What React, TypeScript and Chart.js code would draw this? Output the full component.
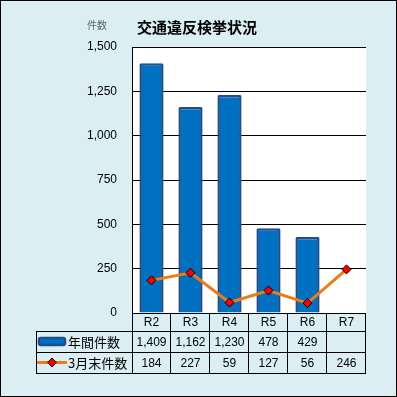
import React, { useEffect, useRef } from "react";
import { Chart, registerables } from "chart.js";

Chart.register(...registerables);

const categories = ["R2", "R3", "R4", "R5", "R6", "R7"];
const annualCounts: (number | null)[] = [1409, 1162, 1230, 478, 429, null];
const marchCounts: number[] = [184, 227, 59, 127, 56, 246];
const annualLabel = "年間件数";
const marchLabel = "3月末件数";
const titleText = "交通違反検挙状況";
const unitText = "件数";

const BG = "#DAEEF3";
const BAR_FILL = "#0070C0";
const BAR_BORDER = "#1F4E8C";
const LINE_COLOR = "#EC7B1A";
const MARKER = "#FF0000";
const NUM_FONT = "Liberation Sans, Arial, sans-serif";
const JP_FONT = "'Noto Sans CJK JP', sans-serif";

const fmt = (v: number | null) => (v == null ? "" : v.toLocaleString("en-US"));

export default function App() {
  const ref = useRef<HTMLCanvasElement | null>(null);

  useEffect(() => {
    const canvas = ref.current;
    if (!canvas) return;

    const framePlugin = {
      id: "frame",
      beforeDraw(chart: any) {
        const { ctx, chartArea: a } = chart;
        ctx.save();
        ctx.fillStyle = BG;
        ctx.fillRect(0, 0, chart.width, chart.height);
        ctx.fillStyle = "#FFFFFF";
        ctx.fillRect(a.left, a.top, a.right - a.left, a.bottom - a.top);
        ctx.strokeStyle = "#000";
        ctx.lineWidth = 1;
        ctx.strokeRect(0.5, 0.5, chart.width - 1, chart.height - 1);
        // titles
        ctx.fillStyle = "#000";
        ctx.font = `bold 15px ${JP_FONT}`;
        ctx.textBaseline = "middle";
        ctx.textAlign = "left";
        ctx.fillText(titleText, 137, 27);
        ctx.fillStyle = "#666";
        ctx.font = `10px ${JP_FONT}`;
        ctx.fillText(unitText, 87, 25);
        ctx.restore();
      },
      afterDraw(chart: any) {
        const { ctx, chartArea: a } = chart;
        const xs = chart.scales.x;
        const n = categories.length;
        const colW = (a.right - a.left) / n;
        const tableLeft = 36;
        const rowTops = [a.bottom, 331, 352, 373];
        ctx.save();
        ctx.strokeStyle = "#000";
        ctx.lineWidth = 1;
        const h = (y: number, x1: number, x2: number) => {
          ctx.beginPath();
          ctx.moveTo(x1, Math.round(y) + 0.5);
          ctx.lineTo(x2, Math.round(y) + 0.5);
          ctx.stroke();
        };
        const v = (x: number, y1: number, y2: number) => {
          ctx.beginPath();
          ctx.moveTo(Math.round(x) - 0.5, y1);
          ctx.lineTo(Math.round(x) - 0.5, y2);
          ctx.stroke();
        };
        h(rowTops[0], a.left, a.right);
        h(rowTops[1], tableLeft, a.right);
        h(rowTops[2], tableLeft, a.right);
        h(rowTops[3], tableLeft, a.right);
        v(tableLeft + 1, rowTops[1], rowTops[3] + 1);
        for (let i = 0; i <= n; i++) {
          v(a.left + colW * i + (i === 0 ? 1 : 0), rowTops[0], rowTops[3] + 1);
        }
        // text
        ctx.fillStyle = "#000";
        ctx.textAlign = "center";
        ctx.textBaseline = "middle";
        ctx.font = `12px ${NUM_FONT}`;
        for (let i = 0; i < n; i++) {
          const cx = xs.getPixelForValue(i);
          ctx.fillText(categories[i], cx, (rowTops[0] + rowTops[1]) / 2 + 1);
          ctx.fillText(fmt(annualCounts[i]), cx, (rowTops[1] + rowTops[2]) / 2 + 1);
          ctx.fillText(fmt(marchCounts[i]), cx, (rowTops[2] + rowTops[3]) / 2 + 1);
        }
        // legend labels
        ctx.textAlign = "left";
        ctx.font = `13px ${JP_FONT}`;
        ctx.fillText(annualLabel, 68, (rowTops[1] + rowTops[2]) / 2 + 1);
        ctx.fillText(marchLabel, 68, (rowTops[2] + rowTops[3]) / 2 + 1);
        // bar symbol
        const by = (rowTops[1] + rowTops[2]) / 2;
        ctx.fillStyle = BAR_FILL;
        ctx.strokeStyle = BAR_BORDER;
        ctx.lineWidth = 2.5;
        ctx.beginPath();
        (ctx as any).roundRect(39, by - 3.5, 26, 7, 2);
        ctx.fill();
        ctx.stroke();
        // line symbol
        const ly = (rowTops[2] + rowTops[3]) / 2;
        ctx.strokeStyle = LINE_COLOR;
        ctx.lineWidth = 3;
        ctx.beginPath();
        ctx.moveTo(37, ly);
        ctx.lineTo(67, ly);
        ctx.stroke();
        ctx.fillStyle = MARKER;
        ctx.strokeStyle = "#000";
        ctx.lineWidth = 1;
        ctx.beginPath();
        ctx.moveTo(52, ly - 4.5);
        ctx.lineTo(56.5, ly);
        ctx.lineTo(52, ly + 4.5);
        ctx.lineTo(47.5, ly);
        ctx.closePath();
        ctx.fill();
        ctx.stroke();
        ctx.restore();
      },
    };

    const chart = new Chart(canvas, {
      type: "bar",
      data: {
        labels: categories,
        datasets: [
          {
            type: "line",
            label: marchLabel,
            data: marchCounts,
            borderColor: LINE_COLOR,
            borderWidth: 3,
            pointStyle: "rectRot",
            pointRadius: 4.5,
            pointBackgroundColor: MARKER,
            pointBorderColor: "#000",
            pointBorderWidth: 1,
            tension: 0,
            order: 0,
          } as any,
          {
            type: "bar",
            label: annualLabel,
            data: annualCounts,
            backgroundColor: BAR_FILL,
            borderColor: BAR_BORDER,
            borderWidth: 2.5,
            borderRadius: 1.5,
            barPercentage: 0.62,
            categoryPercentage: 1,
            order: 1,
          } as any,
        ],
      },
      plugins: [framePlugin],
      options: {
        responsive: false,
        animation: false,
        devicePixelRatio: 1,
        layout: { padding: { left: 0, right: 31, top: 47, bottom: 84 } },
        plugins: {
          legend: { display: false },
          tooltip: { enabled: false },
          title: { display: false },
        },
        scales: {
          x: { display: false },
          y: {
            min: 0,
            max: 1500,
            afterFit: (s: any) => {
              s.width = 132;
            },
            ticks: {
              stepSize: 250,
              padding: 15,
              color: "#000",
              font: { family: NUM_FONT, size: 12 },
              callback: (val: any) => Number(val).toLocaleString("en-US"),
            },
            grid: { color: "#000", lineWidth: 1, drawTicks: false },
            border: { display: true, color: "#000", width: 1 },
          },
        },
      } as any,
    });
    return () => chart.destroy();
  }, []);

  return (
    <div style={{ position: "fixed", left: 0, top: 0, width: 397, height: 397 }}>
      <canvas ref={ref} width={397} height={397} style={{ display: "block", width: 397, height: 397 }} />
    </div>
  );
}
